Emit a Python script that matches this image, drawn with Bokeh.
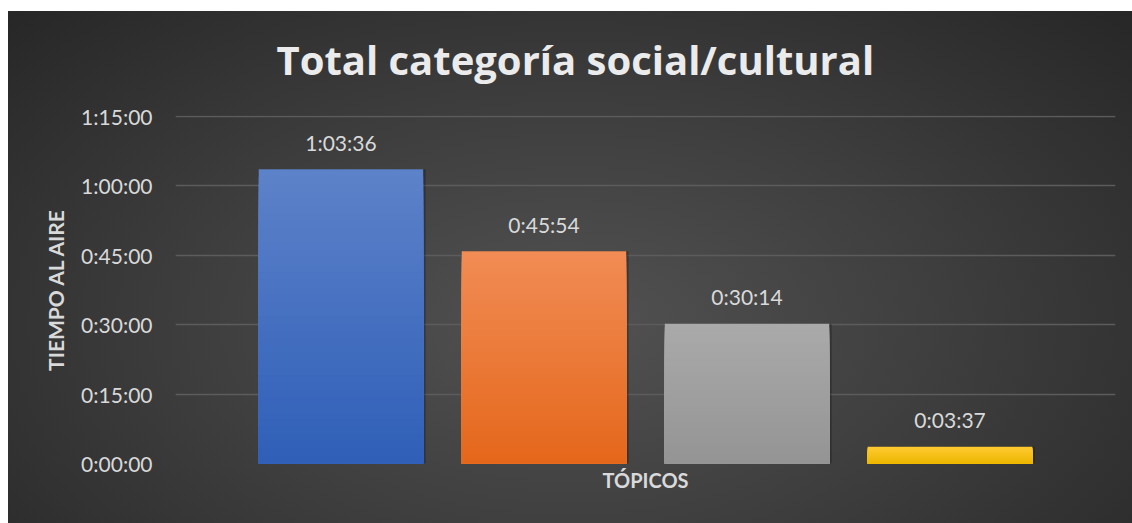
from bokeh.plotting import figure
from bokeh.models import Range1d, FixedTicker, ColumnDataSource, Spacer
from bokeh.layouts import row
from bokeh.core.properties import value
from bokeh.embed import file_html
from bokeh.resources import INLINE

# ---- data ----
topicos = ["Tópico 1", "Tópico 2", "Tópico 3", "Tópico 4"]
tiempos = ["1:03:36", "0:45:54", "0:30:14", "0:03:37"]
y_ticks = ["0:00:00", "0:15:00", "0:30:00", "0:45:00", "1:00:00", "1:15:00"]
color_top = ["#5d82c9", "#f18c55", "#aaaaaa", "#ffcb33"]
color_bottom = ["#2f5fb8", "#e5671b", "#949494", "#edb600"]


def to_sec(s):
    h, m, sec = (int(v) for v in s.split(":"))
    return h * 3600 + m * 60 + sec


segundos = [to_sec(t) for t in tiempos]
tick_secs = [to_sec(t) for t in y_ticks]
xs = list(range(len(topicos)))


def mix(c1, c2, t):
    a = [int(c1[i:i + 2], 16) for i in (1, 3, 5)]
    b = [int(c2[i:i + 2], 16) for i in (1, 3, 5)]
    return "#%02x%02x%02x" % tuple(round(a[k] + (b[k] - a[k]) * t) for k in range(3))


# gradient: overlapping slices, tallest first, each starting at 0
N = 40
gx, gt, gc = [], [], []
for k in range(N - 1, -1, -1):
    for i, v in enumerate(segundos):
        gx.append(xs[i])
        gt.append(v * (k + 1) / N)
        gc.append(mix(color_bottom[i], color_top[i], (k + 0.5) / N))

FONT = "Lato"
TXT = "#d9d9d9"

p = figure(
    width=1124, height=523,
    x_range=Range1d(-0.815, len(topicos) - 1 + 0.815),
    y_range=Range1d(0, tick_secs[-1] * 1.003),
    output_backend="svg", toolbar_location=None, tools="",
    min_border_left=167, min_border_right=17, min_border_top=115, min_border_bottom=60,
    title="Total categoría social/cultural",
)
p.styles = {"background": "linear-gradient(to bottom, #ffffff 0px, #ffffff 11px, transparent 11px), "
                          "radial-gradient(ellipse farthest-corner at 50% 62%, #525252 0%, #3f3f3f 45%, #262626 100%)"}
p.border_fill_color = None
p.background_fill_color = None
p.outline_line_color = None

p.title.align = "left"
p.title.offset = 101
p.title.text_font = "Open Sans"
p.title.text_font_size = "40px"
p.title.text_font_style = "bold"
p.title.text_color = "#ebebeb"
p.title.standoff = 57

# shadow
p.vbar(x=[x + 0.012 for x in xs], top=segundos, bottom=0, width=0.81,
       fill_color="black", fill_alpha=0.25, line_color=None)
p.vbar(x=gx, bottom=0, top=gt, width=0.81, fill_color=gc, line_color=None)

src = ColumnDataSource(dict(x=xs, y=segundos, t=tiempos))
p.text(x="x", y="y", text="t", source=src, text_align="center", text_baseline="alphabetic",
       y_offset=-27, text_font=value(FONT), text_font_size="21px", text_color=TXT)

# axes
p.yaxis.ticker = FixedTicker(ticks=tick_secs)
p.yaxis.major_label_overrides = {s: l for s, l in zip(tick_secs, y_ticks)}
p.yaxis.axis_line_color = None
p.yaxis.major_tick_line_color = None
p.yaxis.minor_tick_line_color = None
p.yaxis.major_label_standoff = 17
p.yaxis.major_label_text_font = FONT
p.yaxis.major_label_text_font_size = "21px"
p.yaxis.major_label_text_color = TXT
p.yaxis.axis_label = "TIEMPO AL AIRE"
p.yaxis.axis_label_text_font = FONT
p.yaxis.axis_label_text_font_size = "21px"
p.yaxis.axis_label_text_font_style = "bold"
p.yaxis.axis_label_text_color = TXT
p.yaxis.axis_label_standoff = 10

p.xaxis.ticker = FixedTicker(ticks=[])
p.xaxis.axis_line_color = None
p.xaxis.major_tick_line_color = None
p.xaxis.minor_tick_line_color = None
p.xaxis.axis_label = "TÓPICOS"
p.xaxis.axis_label_text_font = FONT
p.xaxis.axis_label_text_font_size = "20px"
p.xaxis.axis_label_text_font_style = "bold"
p.xaxis.axis_label_text_color = TXT
p.xaxis.axis_label_standoff = 4

p.xgrid.grid_line_color = None
p.ygrid.grid_line_color = "#5c5c5c"
p.ygrid.grid_line_width = 1.5
p.ygrid.level = "underlay"

layout = row(Spacer(width=8, height=523), p)
open("out.html", "w").write(file_html(layout, INLINE))
